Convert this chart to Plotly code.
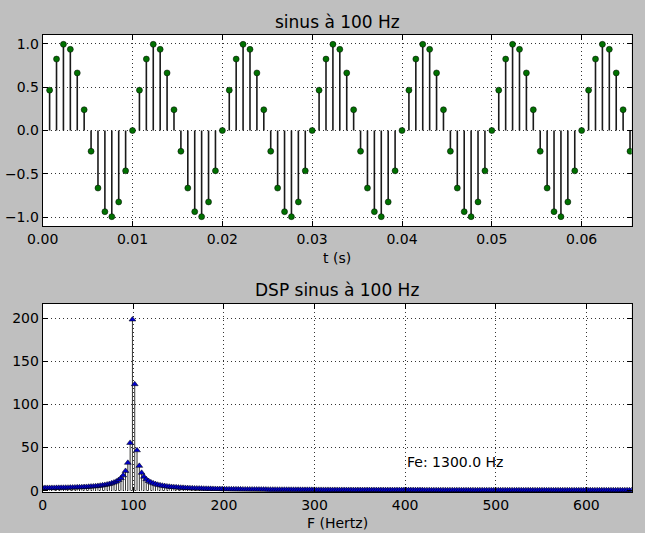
import plotly.graph_objects as go

# ---- data -------------------------------------------------------------
fe = 1300.0          # sampling frequency (Hz)
n_fft = 512          # FFT length used for the DSP

# sample indices shown on the top plot and their values
sig_idx = list(range(1, 86))
signal = [
    0.4647, 0.8230, 0.9927, 0.9350, 0.6631, 0.2393, -0.2393, -0.6631, -0.9350, -0.9927, -0.8230, -0.4647,
    0.0, 0.4647, 0.8230, 0.9927, 0.9350, 0.6631, 0.2393, -0.2393, -0.6631, -0.9350, -0.9927, -0.8230, -0.4647,
    0.0, 0.4647, 0.8230, 0.9927, 0.9350, 0.6631, 0.2393, -0.2393, -0.6631, -0.9350, -0.9927, -0.8230, -0.4647,
    0.0, 0.4647, 0.8230, 0.9927, 0.9350, 0.6631, 0.2393, -0.2393, -0.6631, -0.9350, -0.9927, -0.8230, -0.4647,
    0.0, 0.4647, 0.8230, 0.9927, 0.9350, 0.6631, 0.2393, -0.2393, -0.6631, -0.9350, -0.9927, -0.8230, -0.4647,
    0.0, 0.4647, 0.8230, 0.9927, 0.9350, 0.6631, 0.2393, -0.2393, -0.6631, -0.9350, -0.9927, -0.8230, -0.4647,
    0.0, 0.4647, 0.8230, 0.9927, 0.9350, 0.6631, 0.2393, -0.2393,
]

# DSP magnitude per FFT bin (bins 0 .. 256)
dsp = [
    3.22, 3.22, 3.23, 3.24, 3.26, 3.28, 3.31, 3.34, 3.38, 3.43,
    3.49, 3.55, 3.62, 3.69, 3.78, 3.88, 3.99, 4.11, 4.25, 4.40,
    4.57, 4.77, 4.99, 5.23, 5.52, 5.85, 6.23, 6.67, 7.19, 7.82,
    8.59, 9.54, 10.76, 12.36, 14.57, 17.78, 22.90, 32.33, 55.39, 198.46,
    123.46, 46.83, 28.80, 20.75, 16.20, 13.27, 11.22, 9.72, 8.57, 7.65,
    6.92, 6.31, 5.79, 5.36, 4.98, 4.65, 4.37, 4.11, 3.89, 3.68,
    3.50, 3.34, 3.19, 3.05, 2.92, 2.81, 2.70, 2.60, 2.51, 2.42,
    2.35, 2.27, 2.20, 2.14, 2.07, 2.02, 1.96, 1.91, 1.86, 1.82,
    1.77, 1.73, 1.69, 1.65, 1.62, 1.58, 1.55, 1.52, 1.49, 1.46,
    1.44, 1.41, 1.38, 1.36, 1.34, 1.31, 1.29, 1.27, 1.25, 1.23,
    1.21, 1.20, 1.18, 1.16, 1.15, 1.13, 1.12, 1.10, 1.09, 1.07,
    1.06, 1.05, 1.03, 1.02, 1.01, 1.00, 0.99, 0.98, 0.97, 0.96,
    0.95, 0.94, 0.93, 0.92, 0.91, 0.90, 0.89, 0.88, 0.87, 0.87,
    0.86, 0.85, 0.84, 0.84, 0.83, 0.82, 0.82, 0.81, 0.80, 0.80,
    0.79, 0.79, 0.78, 0.77, 0.77, 0.76, 0.76, 0.75, 0.75, 0.74,
    0.74, 0.73, 0.73, 0.72, 0.72, 0.72, 0.71, 0.71, 0.70, 0.70,
    0.70, 0.69, 0.69, 0.68, 0.68, 0.68, 0.67, 0.67, 0.67, 0.66,
    0.66, 0.66, 0.65, 0.65, 0.65, 0.65, 0.64, 0.64, 0.64, 0.63,
    0.63, 0.63, 0.63, 0.62, 0.62, 0.62, 0.62, 0.62, 0.61, 0.61,
    0.61, 0.61, 0.60, 0.60, 0.60, 0.60, 0.60, 0.60, 0.59, 0.59,
    0.59, 0.59, 0.59, 0.59, 0.58, 0.58, 0.58, 0.58, 0.58, 0.58,
    0.58, 0.57, 0.57, 0.57, 0.57, 0.57, 0.57, 0.57, 0.57, 0.56,
    0.56, 0.56, 0.56, 0.56, 0.56, 0.56, 0.56, 0.56, 0.56, 0.56,
    0.56, 0.555, 0.555, 0.555, 0.555, 0.555, 0.555, 0.55, 0.55, 0.55,
    0.55, 0.55, 0.55, 0.55, 0.55, 0.55, 0.55, 0.55, 0.55, 0.55,
    0.55, 0.55, 0.55, 0.55, 0.55, 0.55, 0.55,
]

top_title = "sinus à 100 Hz"
bottom_title = "DSP sinus à 100 Hz"
top_xlabel = "t (s)"
bottom_xlabel = "F (Hertz)"
fe_text = "Fe: 1300.0 Hz"

top_xticks = [0.0, 0.01, 0.02, 0.03, 0.04, 0.05, 0.06]
top_yticks = [-1.0, -0.5, 0.0, 0.5, 1.0]
bottom_xticks = [0, 100, 200, 300, 400, 500, 600]
bottom_yticks = [0, 50, 100, 150, 200]

# ---- derived axes -------------------------------------------------------
t = [n / fe for n in sig_idx]
freqs = [k * fe / n_fft for k in range(len(dsp))]


def stems(xs, ys):
    sx, sy = [], []
    for x, y in zip(xs, ys):
        sx += [x, x, None]
        sy += [0, y, None]
    return sx, sy


W, H = 645, 533
FONT = "DejaVu Sans"


def fx(p):
    return p / W


def fy(p):
    return 1 - p / H


fig = go.Figure()

sx, sy = stems(t, signal)
fig.add_trace(go.Scatter(x=sx, y=sy, mode="lines", xaxis="x", yaxis="y",
                         line=dict(color="#1a1a1a", width=1.6), hoverinfo="skip",
                         showlegend=False))
fig.add_trace(go.Scatter(x=t, y=signal, mode="markers", xaxis="x", yaxis="y",
                         marker=dict(symbol="circle", size=6, color="#007000",
                                     line=dict(color="black", width=0.5)),
                         showlegend=False))

fx2, fy2 = stems(freqs, dsp)
fig.add_trace(go.Scatter(x=fx2, y=fy2, mode="lines", xaxis="x2", yaxis="y2",
                         line=dict(color="black", width=0.8), hoverinfo="skip",
                         showlegend=False))
fig.add_trace(go.Scatter(x=freqs, y=dsp, mode="markers", xaxis="x2", yaxis="y2",
                         marker=dict(symbol="triangle-up", size=6, color="#0000cc",
                                     line=dict(color="black", width=0.5)),
                         showlegend=False))

axis_common = dict(
    showgrid=True, griddash="1px,3px", gridcolor="#333333", gridwidth=1,
    ticks="inside", ticklen=5, tickwidth=1, tickcolor="black",
    showline=True, linecolor="black", linewidth=1, mirror="ticks",
    zeroline=False, automargin=False,
    tickfont=dict(family=FONT, size=14, color="black"),
)

x_dom = [fx(42.7), fx(631.7)]

fig.update_layout(
    width=W, height=H,
    margin=dict(l=0, r=0, t=0, b=0, autoexpand=False),
    paper_bgcolor="#bfbfbf",
    plot_bgcolor="white",
    showlegend=False,
    xaxis=dict(domain=x_dom, anchor="y", range=[0, 0.06557],
               tickvals=top_xticks, tickformat=".2f", **axis_common),
    yaxis=dict(domain=[fy(226), fy(35)], anchor="x", range=[-1.1, 1.1],
               tickvals=top_yticks, tickformat=".1f", **axis_common),
    xaxis2=dict(domain=x_dom, anchor="y2", range=[0, 650],
                tickvals=bottom_xticks, **axis_common),
    yaxis2=dict(domain=[fy(492), fy(303.5)], anchor="x2", range=[-1.5, 217],
                tickvals=bottom_yticks, **axis_common),
)

cx = (42.7 + 631.7) / 2 / W
ann = [
    dict(text=top_title, x=cx, y=fy(22), size=17),
    dict(text=top_xlabel, x=cx, y=fy(258), size=14),
    dict(text=bottom_title, x=cx, y=fy(290), size=17),
    dict(text=bottom_xlabel, x=cx, y=fy(523), size=14),
]
for a in ann:
    fig.add_annotation(text=a["text"], x=a["x"], y=a["y"], xref="paper", yref="paper",
                       xanchor="center", yanchor="middle", showarrow=False,
                       font=dict(family=FONT, size=a["size"], color="black"))

fig.add_annotation(text=fe_text, x=400, y=33, xref="x2", yref="y2",
                   xanchor="left", yanchor="middle", showarrow=False,
                   font=dict(family=FONT, size=14, color="black"))

fig.write_html(
    "out.html",
    config={"displayModeBar": False},
    post_script="document.body.style.margin='0';document.body.style.background='#bfbfbf';document.body.style.overflow='hidden';",
)
